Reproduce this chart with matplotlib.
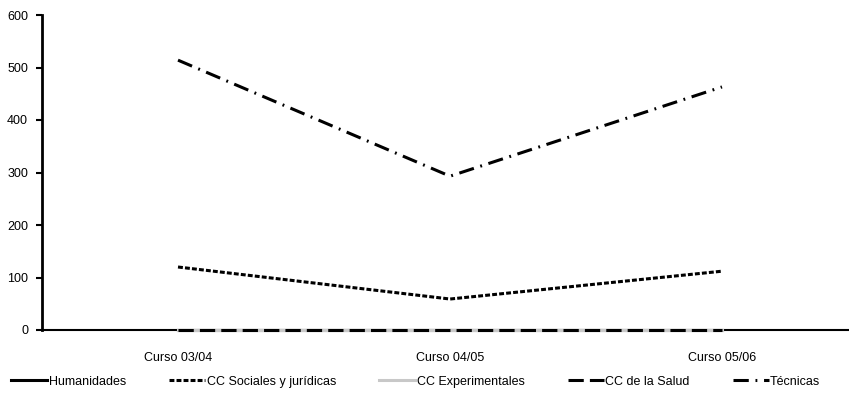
import matplotlib.pyplot as plt

cursos = ['Curso 03/04', 'Curso 04/05', 'Curso 05/06']
humanidades = [0, 0, 0]
sociales = [120, 59, 112]
experimentales = [0, 0, 0]
salud = [0, 0, 0]
tecnicas = [514, 293, 463]

plt.rcParams['font.family'] = ['Liberation Sans', 'DejaVu Sans']

fig = plt.figure(figsize=(8.49, 3.99), dpi=100)
ax = fig.add_axes([42 / 849, 69 / 399, 807 / 849, 315 / 399])

x = range(len(cursos))
opts = dict(lw=2.2, clip_on=False, zorder=3)
ax.plot(x, humanidades, color='black', label='Humanidades', **opts)
ax.plot(x, sociales, color='black', dashes=(1.6, 0.7), label='CC Sociales y jurídicas', **opts)
ax.plot(x, experimentales, color='#c8c8c8', label='CC Experimentales', **opts)
ax.plot(x, salud, color='black', dashes=(5, 2), label='CC de la Salud', **opts)
ax.plot(x, tecnicas, color='black', dashes=(5, 2.2, 0.6, 2.2), label='Técnicas', **opts)

ax.set_xlim(-0.5, -0.5 + 807 / 272)
ax.set_ylim(0, 600)
ax.set_yticks(range(0, 601, 100))
ax.set_xticks(list(x))
ax.set_xticklabels(cursos)
ax.tick_params(axis='x', length=0, pad=16, labelsize=9)
ax.tick_params(axis='y', length=4, width=1.5, direction='out', labelsize=9, pad=6)
for s in ['top', 'right']:
    ax.spines[s].set_visible(False)
ax.spines['left'].set_linewidth(2)
ax.spines['bottom'].set_linewidth(1.5)

fig.legend(loc='lower left', bbox_to_anchor=(0.0, 0.0), ncol=5, frameon=False,
           fontsize=9, handlelength=2.9, handletextpad=0.1, columnspacing=3.45)

fig.savefig('out.png', dpi=100)
